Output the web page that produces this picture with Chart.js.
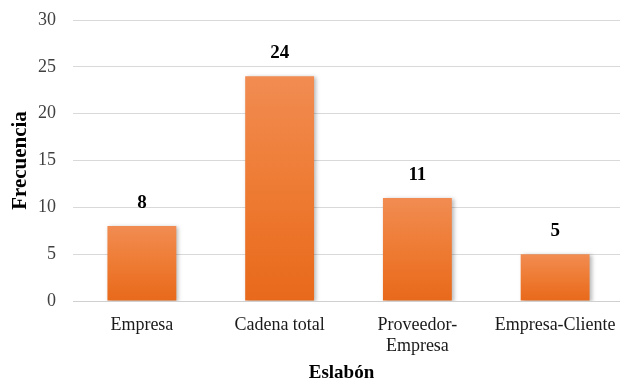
<!DOCTYPE html>
<html>
<head>
<meta charset="utf-8">
<script src="https://cdn.jsdelivr.net/npm/chart.js@4.4.1/dist/chart.umd.min.js"></script>
<style>
  html, body { margin: 0; padding: 0; background: #ffffff; }
  #wrap { width: 620px; height: 385px; }
</style>
</head>
<body>
<div id="wrap"><canvas id="c" width="620" height="385"></canvas></div>
<script>
// Eslabón categories and their frequencies
const categories = ["Empresa", "Cadena total", ["Proveedor-", "Empresa"], "Empresa-Cliente"];
const frecuencia = [8, 24, 11, 5];
const yTicks = [0, 5, 10, 15, 20, 25, 30];
const xTitle = "Eslabón";

const serif = "'Liberation Serif', 'Times New Roman', serif";

// Per-bar vertical gradient: lighter orange at the top, deeper at the base
function barGradient(ctx) {
  const chart = ctx.chart;
  const yScale = chart.scales && chart.scales.y;
  if (!chart.chartArea || !yScale || ctx.parsed == null) return "#ED7D31";
  const top = yScale.getPixelForValue(ctx.parsed.y);
  const base = yScale.getPixelForValue(0);
  const g = chart.ctx.createLinearGradient(0, top, 0, base);
  g.addColorStop(0, "#F18C52");
  g.addColorStop(0.5, "#EE7B33");
  g.addColorStop(1, "#E8691B");
  return g;
}

// The plot area runs a little past the right edge of the canvas
const extendPlotRight = {
  id: "extendPlotRight",
  afterLayout(chart) {
    const x = chart.scales.x;
    const right = 624;
    chart.chartArea.right = right;
    chart.chartArea.width = right - chart.chartArea.left;
    x.right = right;
    x.width = right - x.left;
    x.configure();
  }
};

// Soft drop shadow under the bars
const barShadow = {
  id: "barShadow",
  beforeDatasetsDraw(chart) {
    const c = chart.ctx;
    c.save();
    c.shadowColor = "rgba(0,0,0,0.28)";
    c.shadowBlur = 4;
    c.shadowOffsetX = 2;
    c.shadowOffsetY = 1;
  },
  afterDatasetsDraw(chart) {
    chart.ctx.restore();
  }
};

// Bold value labels above each bar, plus the category axis title centred
// on the visible part of the plot
const valueLabels = {
  id: "valueLabels",
  afterDatasetsDraw(chart) {
    const c = chart.ctx;
    const meta = chart.getDatasetMeta(0);
    c.save();
    c.fillStyle = "#000000";
    c.font = "bold 19px " + serif;
    c.textAlign = "center";
    c.textBaseline = "middle";
    meta.data.forEach((bar, i) => {
      c.fillText(String(frecuencia[i]), bar.x, bar.y - 23);
    });
    const visibleRight = Math.min(chart.chartArea.right, chart.width);
    const midX = (chart.chartArea.left + visibleRight) / 2 - 5;
    c.fillText(xTitle, midX, 373);
    c.restore();
  }
};

new Chart(document.getElementById("c"), {
  type: "bar",
  data: {
    labels: categories,
    datasets: [{
      data: frecuencia,
      backgroundColor: barGradient,
      borderWidth: 0,
      barPercentage: 0.5,
      categoryPercentage: 1.0
    }]
  },
  options: {
    responsive: false,
    animation: false,
    devicePixelRatio: 1,
    layout: { padding: { top: 20, right: 0, left: 0, bottom: 0 } },
    plugins: {
      legend: { display: false },
      tooltip: { enabled: false }
    },
    scales: {
      x: {
        afterFit(scale) {
          scale.height = 84;
          scale.paddingLeft = 0;
          scale.paddingRight = 0;
        },
        grid: { display: false, drawTicks: false },
        border: { display: true, color: "#d0d0d0", width: 1 },
        ticks: {
          color: "#1a1a1a",
          font: { family: serif, size: 18, lineHeight: 1.2 },
          padding: 13,
          maxRotation: 0,
          autoSkip: false
        },
        title: { display: false }
      },
      y: {
        min: 0,
        max: 30,
        afterBuildTicks(scale) {
          scale.ticks = yTicks.map(v => ({ value: v }));
        },
        afterFit(scale) {
          scale.width = 73;
          scale.paddingTop = 0;
          scale.paddingBottom = 0;
        },
        grid: { color: "#d9d9d9", lineWidth: 1, drawTicks: false },
        border: { display: false },
        ticks: {
          color: "#404040",
          font: { family: serif, size: 18 },
          padding: 17
        },
        title: {
          display: true,
          text: "Frecuencia",
          color: "#000000",
          font: { family: serif, size: 21, weight: "bold" },
          padding: { top: 8, bottom: 0 }
        }
      }
    }
  },
  plugins: [extendPlotRight, barShadow, valueLabels]
});
</script>
</body>
</html>
